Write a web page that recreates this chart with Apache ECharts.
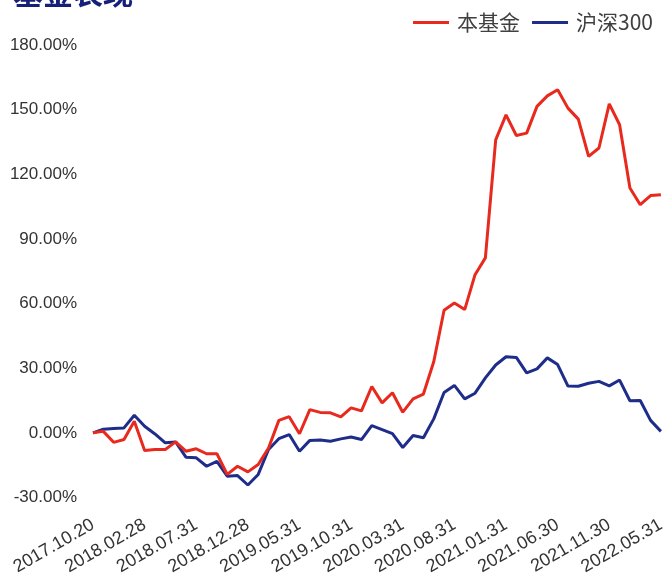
<!DOCTYPE html>
<html>
<head>
<meta charset="utf-8">
<script src="https://cdn.jsdelivr.net/npm/echarts@6/dist/echarts.min.js"></script>
<style>
html,body{margin:0;padding:0;background:#fff;}
#chart{width:668px;height:579px;}
</style>
</head>
<body>
<div id="chart"></div>
<script>
const dates = [
  '2017.10.20','2017.10.31','2017.11.30','2017.12.29','2018.01.31','2018.02.28','2018.03.30','2018.04.27',
  '2018.05.31','2018.06.29','2018.07.31','2018.08.31','2018.09.28','2018.10.31','2018.11.30','2018.12.28',
  '2019.01.31','2019.02.28','2019.03.29','2019.04.30','2019.05.31','2019.06.28','2019.07.31','2019.08.30',
  '2019.09.30','2019.10.31','2019.11.29','2019.12.31','2020.01.23','2020.02.28','2020.03.31','2020.04.30',
  '2020.05.29','2020.06.30','2020.07.31','2020.08.31','2020.09.30','2020.10.30','2020.11.30','2020.12.31',
  '2021.01.31','2021.02.26','2021.03.31','2021.04.30','2021.05.31','2021.06.30','2021.07.30','2021.08.31',
  '2021.09.30','2021.10.29','2021.11.30','2021.12.31','2022.01.28','2022.02.28','2022.03.31','2022.05.31'
];
const fundValues = [
  0, 0.7, -4.4, -3.1, 5.4, -8.2, -7.7, -7.7,
  -4.2, -8.5, -7.4, -9.7, -9.7, -19.3, -15.5, -18.1,
  -14.7, -7.0, 5.8, 7.5, -0.4, 10.8, 9.5, 9.3,
  7.4, 11.6, 10.2, 21.5, 13.9, 18.6, 9.6, 15.8,
  18.0, 33.0, 56.9, 60.3, 57.2, 73.4, 81.2, 136.0,
  147.6, 138.0, 139.1, 151.5, 156.4, 159.2, 150.7, 145.6,
  128.3, 132.2, 152.7, 143.0, 113.6, 105.9, 110.1, 110.5
];
const csi300Values = [
  0, 1.7, 2.0, 2.3, 8.2, 3.1, -0.5, -4.6,
  -4.2, -11.3, -11.6, -15.5, -13.2, -20.1, -19.8, -24.2,
  -19.3, -7.7, -2.7, -0.8, -8.5, -3.5, -3.3, -3.9,
  -2.8, -1.9, -3.1, 3.4, 1.5, -0.4, -6.8, -1.2,
  -2.3, 6.5, 18.7, 22.0, 15.8, 18.4, 25.5, 31.5,
  35.3, 35.0, 27.8, 29.7, 34.8, 31.7, 21.7, 21.6,
  23.0, 23.9, 21.8, 24.5, 14.9, 15.0, 5.8, 0.7
];
const seriesNames = ['本基金', '沪深300'];
const yTicks = { min: -30, max: 180, interval: 30 };

const chart = echarts.init(document.getElementById('chart'), null, { renderer: 'canvas' });
chart.setOption({
  backgroundColor: '#ffffff',
  animation: false,
  title: {
    text: '基金表现',
    left: 8,
    top: -27,
    textStyle: { fontFamily: 'Noto Sans CJK SC', fontSize: 30, fontWeight: 'bold', color: '#16207a' }
  },
  legend: {
    data: seriesNames,
    right: 10,
    top: 7,
    icon: 'rect',
    itemWidth: 36,
    itemHeight: 3,
    itemGap: 12,
    textStyle: { fontFamily: 'Noto Sans CJK SC', fontSize: 21, color: '#404040', padding: [0, 0, 0, 3] }
  },
  grid: { left: 93, right: 3, top: 45, bottom: 81.5 },
  xAxis: {
    type: 'category',
    data: dates,
    boundaryGap: false,
    axisLine: { show: false },
    axisTick: { show: false },
    splitLine: { show: false },
    axisLabel: {
      interval: 4,
      rotate: 30,
      margin: 26,
      fontFamily: 'Liberation Sans, Arial, sans-serif',
      fontSize: 18,
      color: '#333333'
    }
  },
  yAxis: {
    type: 'value',
    min: yTicks.min,
    max: yTicks.max,
    interval: yTicks.interval,
    axisLine: { show: false },
    axisTick: { show: false },
    splitLine: { show: false },
    axisLabel: {
      margin: 16,
      fontFamily: 'Liberation Sans, Arial, sans-serif',
      fontSize: 17,
      color: '#333333',
      formatter: v => v.toFixed(2) + '%'
    }
  },
  series: [
    {
      name: seriesNames[0],
      type: 'line',
      data: fundValues,
      symbol: 'none',
      lineStyle: { width: 3, color: '#e8291e' },
      itemStyle: { color: '#e8291e' },
      z: 3
    },
    {
      name: seriesNames[1],
      type: 'line',
      data: csi300Values,
      symbol: 'none',
      lineStyle: { width: 3, color: '#1f2d8a' },
      itemStyle: { color: '#1f2d8a' },
      z: 2
    }
  ]
});
</script>
</body>
</html>
